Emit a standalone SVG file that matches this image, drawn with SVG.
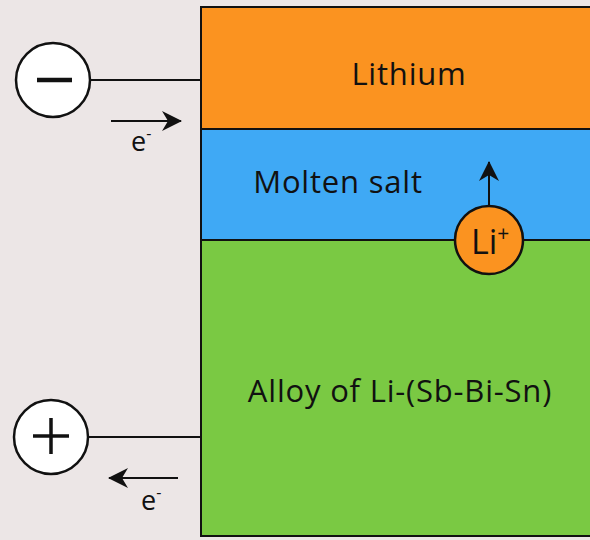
<svg xmlns="http://www.w3.org/2000/svg" width="590" height="540" viewBox="0 0 590 540">
<style>
.t{font-family:"Open Sans","Noto Sans",sans-serif;fill:#111;}
.big{font-size:31px;letter-spacing:0.8px;}
.ln{stroke:#111;stroke-width:2;fill:none;}
.term{fill:#fff;stroke:#111;stroke-width:2.5;}
</style>
<defs>
<marker id="ah" viewBox="0 0 20 20" refX="19" refY="10" markerWidth="20" markerHeight="20" markerUnits="userSpaceOnUse" orient="auto">
<path d="M0,0 L20,10 L0,20 L6,10 Z" fill="#111"/>
</marker>
</defs>
<rect width="590" height="540" fill="#ece6e6"/>
<g id="lithium">
<rect x="201" y="7" width="400" height="122" fill="#fb9320" stroke="#111" stroke-width="2"/>
<text class="t big" x="409" y="85" text-anchor="middle">Lithium</text>
</g>
<g id="salt">
<rect x="201" y="129" width="400" height="111" fill="#3fa9f5" stroke="#111" stroke-width="2"/>
<text class="t big" x="338" y="193" text-anchor="middle">Molten salt</text>
</g>
<g id="alloy">
<rect x="201" y="240" width="400" height="296" fill="#7ac943" stroke="#111" stroke-width="2"/>
<text class="t big" x="400" y="402" text-anchor="middle">Alloy of Li-(Sb-Bi-Sn)</text>
</g>
<g id="connectors">
<line class="ln" x1="90" y1="80" x2="201" y2="80"/>
<line class="ln" x1="89" y1="437" x2="201" y2="437"/>
<line class="ln" x1="111" y1="121" x2="181" y2="121" marker-end="url(#ah)"/>
<line class="ln" x1="178" y1="478" x2="109" y2="478" marker-end="url(#ah)"/>
<line class="ln" x1="489" y1="206" x2="489" y2="162" marker-end="url(#ah)"/>
</g>
<g id="neg">
<circle class="term" cx="53" cy="80" r="37"/>
<line x1="37" y1="80" x2="72" y2="80" stroke="#111" stroke-width="4.5"/>
</g>
<g id="pos">
<circle class="term" cx="51" cy="437" r="37"/>
<line x1="33" y1="436" x2="69" y2="436" stroke="#111" stroke-width="3.5"/>
<line x1="51" y1="418" x2="51" y2="454" stroke="#111" stroke-width="3.5"/>
</g>
<g id="eminus1">
<text class="t" x="131" y="151" font-size="27">e<tspan font-size="16" dy="-12">-</tspan></text>
</g>
<g id="eminus2">
<text class="t" x="141" y="510" font-size="27">e<tspan font-size="16" dy="-12">-</tspan></text>
</g>
<g id="liion">
<circle cx="489" cy="240" r="34" fill="#fb9320" stroke="#111" stroke-width="2.5"/>
<text class="t" x="471" y="254" font-size="34">Li<tspan font-size="21" dy="-13">+</tspan></text>
</g>
</svg>
